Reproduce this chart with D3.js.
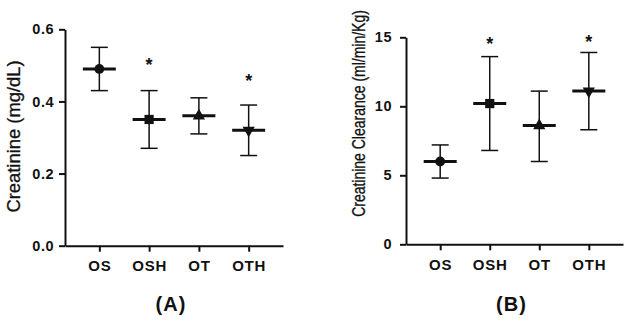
<!DOCTYPE html>
<html>
<head>
<meta charset="utf-8">
<script src="https://cdn.jsdelivr.net/npm/d3@7"></script>
<style>
  body { margin: 0; background: #fff; }
  svg { display: block; }
  text { font-family: "Liberation Sans", Arial, sans-serif; fill: #111; }
</style>
</head>
<body>
<svg id="chart" width="631" height="323"></svg>
<script>
// Groups on the x axis
const groups = ['OS', 'OSH', 'OT', 'OTH'];
const symbols = ['circle', 'square', 'up', 'down'];

// Panel A - serum creatinine (mg/dL)
const creatMean = [0.49, 0.35, 0.36, 0.32];
const creatLow = [0.43, 0.27, 0.31, 0.25];
const creatHigh = [0.55, 0.43, 0.41, 0.39];
const creatStar = [null, 0.511, null, 0.469];
const creatTicks = [0, 0.2, 0.4, 0.6];

// Panel B - creatinine clearance (ml/min/Kg)
const clearMean = [6.0, 10.2, 8.6, 11.1];
const clearLow = [4.8, 6.8, 6.0, 8.3];
const clearHigh = [7.2, 13.6, 11.1, 13.9];
const clearStar = [null, 14.8, null, 14.93];
const clearTicks = [0, 5, 10, 15];

const svg = d3.select('#chart');

function drawPanel(opt) {
    const x = d3.scalePoint().domain(groups).range([opt.left, opt.right]).padding(0.69);
    const y = d3.scaleLinear().domain(opt.domain).range([opt.bottom, opt.top]);
    const g = svg.append('g');

    // y axis
    const yAxis = g.append('g')
        .attr('transform', `translate(${opt.left},0)`)
        .call(d3.axisLeft(y).tickValues(opt.ticks).tickFormat(opt.fmt)
            .tickSize(6).tickSizeOuter(0).tickPadding(opt.yPad));
    // x axis
    const xAxis = g.append('g')
        .attr('transform', `translate(0,${opt.bottom})`)
        .call(d3.axisBottom(x).tickSize(6).tickSizeOuter(0).tickPadding(9));

    [yAxis, xAxis].forEach(a => {
        a.select('.domain').attr('stroke', '#111').attr('stroke-width', 2);
        a.selectAll('.tick line').attr('stroke', '#111').attr('stroke-width', 2);
        a.selectAll('.tick text')
            .attr('fill', '#111')
            .style('font-size', '14.5px')
            .style('font-weight', 'bold')
            .style('letter-spacing', '0.5px')
            .style('font-family', '"Liberation Sans", Arial, sans-serif');
    });
    xAxis.selectAll('.tick text').style('font-size', '15px').style('letter-spacing', '0.8px');

    const rows = groups.map((k, i) => ({
        k, sym: symbols[i], mean: opt.mean[i], lo: opt.low[i], hi: opt.high[i], star: opt.star[i]
    }));

    const pt = g.selectAll('g.pt').data(rows).enter().append('g').attr('class', 'pt');

    // whisker
    pt.append('line')
        .attr('x1', d => x(d.k)).attr('x2', d => x(d.k))
        .attr('y1', d => y(d.lo)).attr('y2', d => y(d.hi))
        .attr('stroke', '#111').attr('stroke-width', 1.5);
    // caps
    ['lo', 'hi'].forEach(key => {
        pt.append('line')
            .attr('x1', d => x(d.k) - 8.5).attr('x2', d => x(d.k) + 8.5)
            .attr('y1', d => y(d[key])).attr('y2', d => y(d[key]))
            .attr('stroke', '#111').attr('stroke-width', 1.5);
    });
    // mean bar
    pt.append('line')
        .attr('x1', d => x(d.k) - 16.5).attr('x2', d => x(d.k) + 16.5)
        .attr('y1', d => y(d.mean)).attr('y2', d => y(d.mean))
        .attr('stroke', '#111').attr('stroke-width', 3);

    // markers
    const shapes = {
        circle: d3.symbol().type(d3.symbolCircle).size(75),
        square: d3.symbol().type(d3.symbolSquare).size(85),
        up: d3.symbol().type(d3.symbolTriangle).size(65),
        down: d3.symbol().type(d3.symbolTriangle).size(65)
    };
    pt.append('path')
        .attr('d', d => shapes[d.sym]())
        .attr('transform', d => `translate(${x(d.k)},${y(d.mean)})` + (d.sym === 'down' ? ' rotate(180)' : ''))
        .attr('fill', '#111');

    // significance stars
    pt.filter(d => d.star !== null).append('text')
        .attr('x', d => x(d.k))
        .attr('y', d => y(d.star) + 10)
        .attr('text-anchor', 'middle')
        .style('font-size', '18px')
        .style('font-weight', 'bold')
        .text('*');

    // y title (stretched/squeezed along its length like the source image)
    g.append('text')
        .attr('transform', `translate(${opt.titleX},${opt.titleY}) rotate(-90) scale(${opt.titleScale},1)`)
        .attr('text-anchor', 'middle')
        .attr('stroke', '#111')
        .attr('stroke-width', 0.3)
        .style('font-size', '17.5px')
        .text(opt.title);

    // panel label
    g.append('text')
        .attr('x', (opt.left + opt.right) / 2 - 3)
        .attr('y', 311)
        .attr('text-anchor', 'middle')
        .style('font-size', '20px')
        .style('font-weight', 'bold')
        .style('letter-spacing', '1px')
        .text(opt.label);
}

drawPanel({
    left: 65, right: 283, top: 29.3, bottom: 245.7,
    domain: [0, 0.6], ticks: creatTicks, fmt: d3.format('.1f'), yPad: 5,
    mean: creatMean, low: creatLow, high: creatHigh, star: creatStar,
    title: 'Creatinine (mg/dL)', titleX: 19.5, titleY: 136.5, titleScale: 1.05,
    label: '(A)'
});

drawPanel({
    left: 406, right: 623, top: 37.3, bottom: 244.3,
    domain: [0, 15], ticks: clearTicks, fmt: d3.format('d'), yPad: 8,
    mean: clearMean, low: clearLow, high: clearHigh, star: clearStar,
    title: 'Creatinine Clearance (ml/min/Kg)', titleX: 365, titleY: 113.5, titleScale: 0.8,
    label: '(B)'
});
</script>
</body>
</html>
